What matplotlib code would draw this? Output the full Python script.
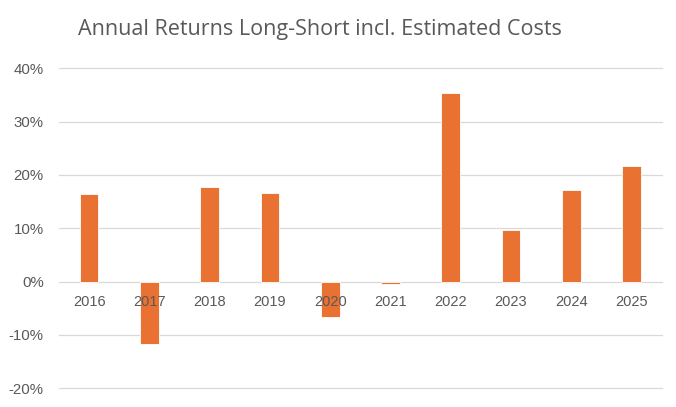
import matplotlib
matplotlib.use('Agg')
import matplotlib.pyplot as plt
from matplotlib.ticker import PercentFormatter

plt.rcParams['axes.unicode_minus'] = False

# data
years = ['2016', '2017', '2018', '2019', '2020', '2021', '2022', '2023', '2024', '2025']
returns = [16.4, -11.7, 17.8, 16.6, -6.6, -0.45, 35.4, 9.7, 17.2, 21.7]

bar_color = '#E97132'
text_color = '#595959'
grid_color = '#D9D9D9'

fig = plt.figure(figsize=(6.76, 4.07), dpi=100)
ax = fig.add_axes([0.0873, 0.0459, 0.8916, 0.7863])

x = range(len(years))
ax.bar(x, returns, width=0.31, color=bar_color, edgecolor='white', linewidth=0.6, zorder=2)

ax.set_xlim(-0.5, len(years) - 0.5)
ax.set_ylim(-20, 40)
ax.set_yticks(range(-20, 41, 10))
ax.yaxis.set_major_formatter(PercentFormatter(decimals=0))
ax.tick_params(axis='y', length=0, pad=11, labelsize=10.8, labelcolor=text_color)
ax.set_xticks([])
for lab in ax.get_yticklabels():
    lab.set_fontfamily('Liberation Sans')

# gridlines behind bars
for t in range(-20, 41, 10):
    ax.axhline(t, color=grid_color, linewidth=0.9, zorder=0, clip_on=False)

for s in ax.spines.values():
    s.set_visible(False)

# category labels sit just under the zero line, drawn over the bars
for i, yr in enumerate(years):
    ax.annotate(yr, (i, 0), xytext=(0, -15), textcoords='offset points',
                ha='center', va='center', fontsize=10.5, color=text_color,
                family='Liberation Sans', zorder=5)

fig.text(320 / 676, 1 - 29 / 407, 'Annual Returns Long-Short incl. Estimated Costs',
         ha='center', va='center', fontsize=15.5, color=text_color, family='Open Sans')

fig.savefig('out.png', dpi=100)
